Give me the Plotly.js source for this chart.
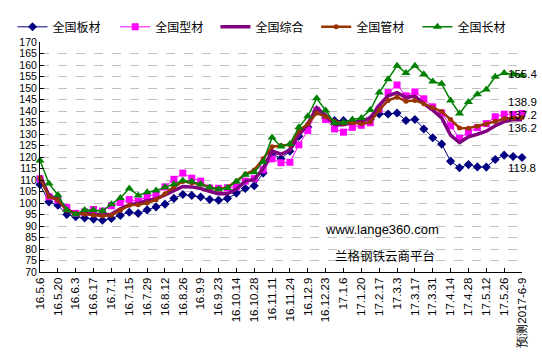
<!DOCTYPE html>
<html>
<head>
<meta charset="utf-8">
<script src="https://cdn.plot.ly/plotly-3.0.1.min.js"></script>
<style>html,body{margin:0;padding:0;background:#fff;}#chart{width:542px;height:360px;}</style>
</head>
<body>
<div id="chart"></div>
<script>
const dates = ["16.5.6","16.5.13","16.5.20","16.5.27","16.6.3","16.6.10","16.6.17","16.6.24","16.7.1","16.7.8",
"16.7.15","16.7.22","16.7.29","16.8.5","16.8.12","16.8.19","16.8.26","16.9.2","16.9.9","16.9.14",
"16.9.23","16.9.30","16.10.14","16.10.21","16.10.28","16.11.4","16.11.11","16.11.18","16.11.24","16.12.2",
"16.12.9","16.12.16","16.12.23","16.12.30","17.1.6","17.1.13","17.1.20","17.2.10","17.2.17","17.2.24",
"17.3.3","17.3.10","17.3.17","17.3.24","17.3.31","17.4.7","17.4.14","17.4.21","17.4.28","17.5.5",
"17.5.12","17.5.19","17.5.26","17.6.2","预测2017-6-9"];

const plate = [108,100.5,99,95,94,93.5,93,92.5,93.3,94.6,
96,95.5,97,98.3,99.5,102,103.7,103.3,102.6,101.5,
101.2,102,104.3,106.3,107.5,113,121.5,119.2,122.5,129,
133,140,137,135.8,135.8,135.5,135.8,136.3,138.7,138.7,
139.1,135.9,136.3,132.2,128.4,125.6,118.2,115.3,116.7,115.7,
115.6,118.9,120.8,120.2,119.8];

const section = [110.5,102.7,101.3,98.1,95.5,96.1,97.2,96.5,98.8,100.2,
101.5,100.8,102.8,103.7,107,110.3,113,110.8,109.5,106.5,
106.4,106.6,107,109.5,110.6,114.5,119.2,117.5,117.7,125.3,
131.5,140.3,136.3,132.2,130.8,132.9,133.8,134.9,140.8,148,
151.3,146.6,148.3,145.3,141.8,139.1,133.6,128.1,130.8,132.8,
134.5,137.5,138.6,138.5,138.9];

const composite = [112,103.3,101.3,97.2,95.1,95.5,95.1,94.7,95.1,97.5,
99.2,99.9,101,101.8,103.5,105.4,107.2,107,106.3,105.1,
104,104,106.1,109.5,110.2,115,122.6,121.2,123,129.5,
134.3,141.4,138.1,134,134,135,135.6,137,142.5,146.6,
148,146,146.4,143.2,140.4,137,129.5,126.3,128.8,129.9,
131.2,133.6,135.4,136.3,136.2];

const pipe = [110.8,102.7,101.3,96.9,95.5,95.1,94.7,94.4,94.7,96.8,
99,99.2,100,101.4,104,107,109.4,108.8,108.2,106.8,
106.1,106.8,109.5,112.6,114.3,119.2,124.5,125,125.3,131.5,
134.3,139.1,137.5,135.5,134.7,134.9,134.5,135.2,140.4,144.6,
146,144.2,144.6,143.2,141.4,139.8,136.3,132.6,132.5,133.4,
134.3,135.4,136.7,137,137.2];

const longSteel = [118.5,108.5,103.5,97,95,97,97,96.5,99.5,102.2,
106.3,103.3,104.7,105.4,106.8,108.2,109.8,109.3,108.1,106.7,
106,106.5,109.4,112.3,113.4,117.9,128.5,124.6,125.7,132.9,
137.7,145.5,140.2,134.8,135,136.3,137,140.4,148,153.8,
159.7,156.5,159.7,156,152.8,151.8,144.6,138.9,143.9,147.3,
149.4,154.9,156.5,156,155.4];

const names = ["全国板材","全国型材","全国综合","全国管材","全国长材"];
const tickLabels = dates.filter((d,i)=>i%2===0);

const cjk = '"Noto Sans CJK SC", "DejaVu Sans", sans-serif';
const latin = '"Liberation Sans", Arial, sans-serif';
const legendIds = ['legend','legend2','legend3','legend4','legend5'];
const traces = [
  {y:plate, name:names[0], line:{color:'#000080',width:1}, marker:{symbol:'diamond',size:7,color:'#000080'}, mode:'lines+markers'},
  {y:section, name:names[1], line:{color:'#FF00FF',width:1}, marker:{symbol:'square',size:7,color:'#FF00FF'}, mode:'lines+markers'},
  {y:composite, name:names[2], line:{color:'#800080',width:3.5}, mode:'lines'},
  {y:pipe, name:names[3], line:{color:'#993300',width:2.5}, marker:{symbol:'circle',size:5,color:'#993300'}, mode:'lines+markers'},
  {y:longSteel, name:names[4], line:{color:'#008000',width:1.5}, marker:{symbol:'triangle-up',size:8,color:'#008000'}, mode:'lines+markers'}
].map((t,i)=>Object.assign({x:dates, type:'scatter', cliponaxis:false, legend:legendIds[i]}, t));

const last = dates.length-1;
const endLabels = [
  {v:longSteel[last], shift:2},
  {v:section[last], shift:12},
  {v:pipe[last], shift:2.5},
  {v:composite[last], shift:-8.5},
  {v:plate[last], shift:-11}
];
const annotations = endLabels.map(e=>({
  x:dates[last], y:e.v, xref:'x', yref:'y', text:e.v.toFixed(1), showarrow:false,
  xanchor:'center', yanchor:'middle', yshift:e.shift, xshift:0,
  font:{family:latin, size:11.5, color:'#000'}
}));
annotations.push({xref:'paper',yref:'paper',x:0.588,y:0.185,xanchor:'left',yanchor:'middle',showarrow:false,
  text:'www.lange360.com', font:{family:latin, size:13, color:'#000'}});
annotations.push({xref:'paper',yref:'paper',x:0.607,y:0.072,xanchor:'left',yanchor:'middle',showarrow:false,
  text:'兰格钢铁云商平台', font:{family:cjk, size:12.5, color:'#000'}});

const legendX = [-0.057, 0.156, 0.364, 0.573, 0.783];
const layout = {
  width:542, height:360,
  margin:{l:35, r:20, t:30, b:87.5},
  paper_bgcolor:'#fff', plot_bgcolor:'#fff',
  showlegend:true,
  xaxis:{type:'category', range:[0,last], tickmode:'array', tickvals:tickLabels, ticktext:tickLabels,
    tickangle:-90, ticks:'inside', ticklen:4, tickcolor:'#000', showgrid:false, zeroline:false,
    showline:true, linecolor:'#000', linewidth:1,
    tickfont:{family:latin, size:11.5, color:'#000'}},
  yaxis:{range:[70,170], dtick:5, tick0:70, ticks:'inside', ticklen:4, tickcolor:'#000',
    showline:true, linecolor:'#000', linewidth:1, zeroline:false,
    showgrid:true, gridcolor:'#c0c0c0', griddash:'dash', gridwidth:1,
    tickfont:{family:latin, size:10.5, color:'#000'}},
  annotations:annotations
};
legendIds.forEach((id,i)=>{
  layout[id] = {orientation:'h', x:legendX[i], xanchor:'left', y:1.066, yanchor:'middle',
    font:{family:cjk, size:12, color:'#000'}, itemwidth:30, bgcolor:'rgba(0,0,0,0)'};
});
Plotly.newPlot('chart', traces, layout, {displayModeBar:false, staticPlot:true});
</script>
</body>
</html>
